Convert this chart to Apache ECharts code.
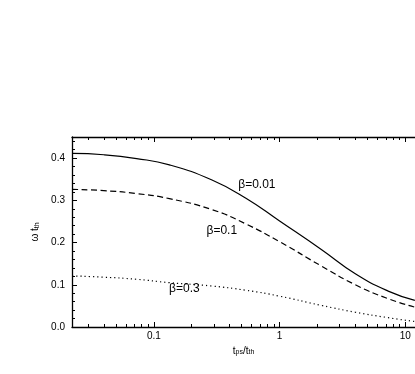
<!DOCTYPE html>
<html><head><meta charset="utf-8">
<script src="https://cdn.jsdelivr.net/npm/echarts@6/dist/echarts.min.js"></script>
<style>html,body{margin:0;padding:0;background:#fff}#c{width:415px;height:374px}</style>
</head><body><div id="c"></div>
<script>
// t_ps / t_th sample positions (log axis)
const tValues = [0.0224, 0.04, 0.073, 0.133, 0.29, 0.54, 1.0, 2.16, 4.0, 7.3, 11.9];
// omega * t_th for each beta
const beta001 = [0.411, 0.408, 0.399, 0.384, 0.348, 0.305, 0.251, 0.183, 0.126, 0.085, 0.063];
const beta01  = [0.326, 0.323, 0.316, 0.304, 0.278, 0.244, 0.202, 0.144, 0.100, 0.067, 0.047];
const beta03  = [0.121, 0.118, 0.113, 0.105, 0.097, 0.087, 0.073, 0.051, 0.035, 0.022, 0.013];
const seriesNames = ['β=0.01', 'β=0.1', 'β=0.3'];
const labelAnchors = [[0.66, 0.336], [0.347, 0.227], [0.175, 0.090]];
const xMajorTicks = [0.1, 1, 10];
const xMinorTicks = [0.03,0.04,0.05,0.06,0.07,0.08,0.09,0.2,0.3,0.4,0.5,0.6,0.7,0.8,0.9,2,3,4,5,6,7,8,9];
const yMajorTicks = [0, 0.1, 0.2, 0.3, 0.4];
const yMinorTicks = [0.02,0.04,0.06,0.08,0.12,0.14,0.16,0.18,0.22,0.24,0.26,0.28,0.32,0.34,0.36,0.38,0.42,0.44];

const X_MIN = 0.02235, X_MAX = 11.93, Y_MIN = 0, Y_MAX = 0.45;
const FONT = 'Liberation Sans, Arial, sans-serif';

function xAxisDef(position, major, showLine, showLabel, name) {
  const ax = {
    type: 'log', logBase: 10, min: X_MIN, max: X_MAX, position: position,
    axisLine: { show: showLine, lineStyle: { color: '#000', width: 1.3 } },
    axisTick: { show: true, inside: true, length: major ? 5 : 3, customValues: major ? xMajorTicks : xMinorTicks,
                lineStyle: { color: '#000', width: 1 } },
    axisLabel: { show: showLabel, customValues: xMajorTicks, color: '#000', fontSize: 10, fontFamily: FONT, margin: 4,
                 formatter: v => (v < 1 ? '0.1' : String(Math.round(v))) },
    splitLine: { show: false }, minorTick: { show: false }
  };
  if (name) {
    ax.name = name; ax.nameLocation = 'middle'; ax.nameGap = 17;
    ax.nameTextStyle = { color: '#000', fontFamily: FONT, fontSize: 10,
      rich: { n: { fontSize: 10, fontFamily: FONT, color: '#000' }, s: { fontSize: 7, fontFamily: FONT, color: '#000', verticalAlign: 'bottom', padding: [3, 0, 0, 0] } } };
  }
  return ax;
}

const chart = echarts.init(document.getElementById('c'), null, { renderer: 'canvas' });
const mk = (i) => ({
  symbol: 'rect', symbolSize: 1, silent: true,
  itemStyle: { color: 'rgba(0,0,0,0)' },
  label: { show: true, position: 'inside', formatter: seriesNames[i], color: '#000', fontSize: 12, fontFamily: FONT },
  data: [{ coord: labelAnchors[i] }]
});
const lineSeries = (vals, i, type) => ({
  type: 'line', name: seriesNames[i], xAxisIndex: 0, yAxisIndex: 0,
  data: tValues.map((t, k) => [t, vals[k]]),
  symbol: 'none', smooth: 0.5, animation: false,
  lineStyle: { color: '#000', width: 1.2, type: type },
  markPoint: mk(i)
});

chart.setOption({
  animation: false,
  backgroundColor: '#fff',
  grid: { left: 72, top: 137, width: 345, height: 190 },
  xAxis: [
    xAxisDef('bottom', true, true, true, '{n|t}{s|ps}{n|/t}{s|th}'),
    xAxisDef('bottom', false, false, false),
    xAxisDef('top', true, true, false),
    xAxisDef('top', false, false, false)
  ],
  yAxis: [
    { type: 'value', min: Y_MIN, max: Y_MAX, position: 'left',
      axisLine: { show: true, lineStyle: { color: '#000', width: 1.3 } },
      axisTick: { show: true, inside: true, length: 5, customValues: yMajorTicks, lineStyle: { color: '#000' } },
      axisLabel: { customValues: yMajorTicks, color: '#000', fontSize: 10, fontFamily: FONT, margin: 7, formatter: v => v.toFixed(1) },
      splitLine: { show: false },
      name: '{n|ω t}{s|th}', nameLocation: 'middle', nameGap: 28, nameRotate: 90,
      nameTextStyle: { color: '#000', fontFamily: FONT, fontSize: 10,
        rich: { n: { fontSize: 10, fontFamily: FONT, color: '#000' }, s: { fontSize: 7, fontFamily: FONT, color: '#000', verticalAlign: 'bottom', padding: [3, 0, 0, 0] } } } },
    { type: 'value', min: Y_MIN, max: Y_MAX, position: 'left',
      axisLine: { show: false },
      axisTick: { show: true, inside: true, length: 3, customValues: yMinorTicks, lineStyle: { color: '#000' } },
      axisLabel: { show: false }, splitLine: { show: false } }
  ],
  series: [
    lineSeries(beta001, 0, 'solid'),
    lineSeries(beta01, 1, [6, 3.5]),
    lineSeries(beta03, 2, [1.2, 3])
  ]
});
</script></body></html>
